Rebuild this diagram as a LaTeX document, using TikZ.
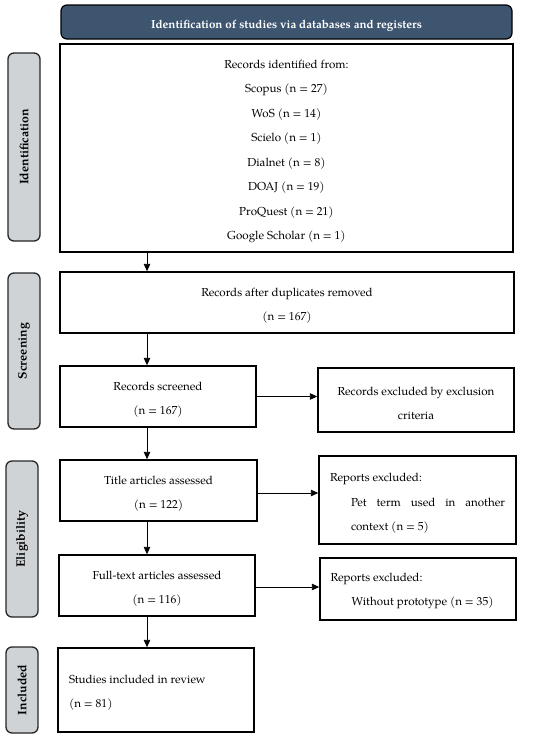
\documentclass[tikz,border=0pt]{standalone}
\usepackage{fontspec}
\setmainfont{TeX Gyre Pagella}
\usetikzlibrary{arrows.meta,calc}
\definecolor{hdrblue}{HTML}{3E5570}
\definecolor{lblgray}{HTML}{CFD3D6}
\newcommand{\tstr}{\rule{0pt}{15pt}}
\newcommand{\bodyfont}{\fontsize{11.6}{24.5}\selectfont}
\tikzset{
  box/.style={draw=black, line width=1.4pt, fill=white, inner sep=0pt,
    font=\bodyfont, align=center},
  hdr/.style={draw=black, line width=1.2pt, fill=hdrblue, rounded corners=6pt,
    text=white, font=\fontsize{11.6}{12}\selectfont\bfseries},
  side/.style={draw=black!85, line width=1.3pt, fill=lblgray, rounded corners=6pt,
    minimum width=32pt},
  sidetext/.style={rotate=90, font=\fontsize{12.3}{13}\selectfont\bfseries},
  arr/.style={line width=0.9pt, -{Triangle[length=7.5pt,width=6.5pt]}}
}
\begin{document}
\begin{tikzpicture}[x=1pt,y=-1pt]
\useasboundingbox (0,0) rectangle (550,739);
% header
\node[hdr, minimum width=451pt, minimum height=34pt] (hd) at (286.5,22) {\raisebox{-4pt}[\height][\depth]{Identification of studies via databases and registers}};
% side labels
\node[side, minimum height=188pt] (lid) at (24,147) {};
\node[sidetext] (lidt) at (lid.center) {Identification};
\node[side, minimum height=156pt] (lscr) at (24,351) {};
\node[sidetext] (lscrt) at (lscr.center) {Screening};
\node[side, minimum height=156pt] (lel) at (22,539) {};
\node[sidetext] (lelt) at (lel.center) {Eligibility};
\node[side, minimum height=86pt] (linc) at (22,690) {};
\node[sidetext] (linct) at (linc.center) {Included};
% boxes
\node[box, minimum width=453pt, minimum height=208pt] (id) at (286.5,148)
  {\tstr Records identified from:\\ Scopus (n = 27)\\ WoS (n = 14)\\ Scielo (n = 1)\\ Dialnet (n = 8)\\ DOAJ (n = 19)\\ ProQuest (n = 21)\\ Google Scholar (n = 1)};
\node[box, minimum width=454pt, minimum height=61pt] (dup) at (287,302.5)
  {\tstr Records after duplicates removed\\ (n = 167)};
\node[box, minimum width=196pt, minimum height=61pt] (scr) at (158,396.5)
  {\tstr Records screened\\ (n = 167)};
\node[box, minimum width=196pt, minimum height=64pt] (exc) at (416,400)
  {\tstr Records excluded by exclusion\\ criteria};
\node[box, minimum width=197pt, minimum height=61pt] (tit) at (158.5,490.5)
  {\tstr Title articles assessed\\ (n = 122)};
\node[box, minimum width=197pt, minimum height=88pt] (rep1) at (417.5,500)
  {\parbox{175pt}{\bodyfont\vspace*{7pt}\noindent Reports excluded:\par
   \leftskip=21pt\noindent Pet term used in another\linebreak context (n = 5)}};
\node[box, minimum width=196pt, minimum height=61pt] (ful) at (157,585.5)
  {\tstr Full-text articles assessed\\ (n = 116)};
\node[box, minimum width=196pt, minimum height=62pt] (rep2) at (418,589)
  {\parbox{175pt}{\bodyfont\vspace*{4pt}\noindent Reports excluded:\par
   \leftskip=21pt\noindent Without prototype (n = 35)}};
\node[box, minimum width=196pt, minimum height=84pt] (inc) at (156,690)
  {\parbox{174pt}{\bodyfont\vspace*{5pt}\raggedright\noindent Studies included in review\\ (n = 81)}};
% connectors
\coordinate (ax) at (147,0);
\draw[arr] (id.south -| ax) -- (dup.north -| ax);
\draw[arr] (dup.south -| ax) -- (scr.north -| ax);
\draw[arr] (scr.south -| ax) -- (tit.north -| ax);
\draw[arr] (tit.south -| ax) -- (ful.north -| ax);
\draw[arr] (ful.south -| ax) -- (inc.north -| ax);
\draw[arr] (scr.east) -- (exc.west |- scr.east);
\draw[arr] ($(tit.east)+(0,2.5)$) -- (rep1.west |- {$(tit.east)+(0,2.5)$});
\draw[arr] ($(ful.east)+(0,1.5)$) -- (rep2.west |- {$(ful.east)+(0,1.5)$});
\end{tikzpicture}
\end{document}
